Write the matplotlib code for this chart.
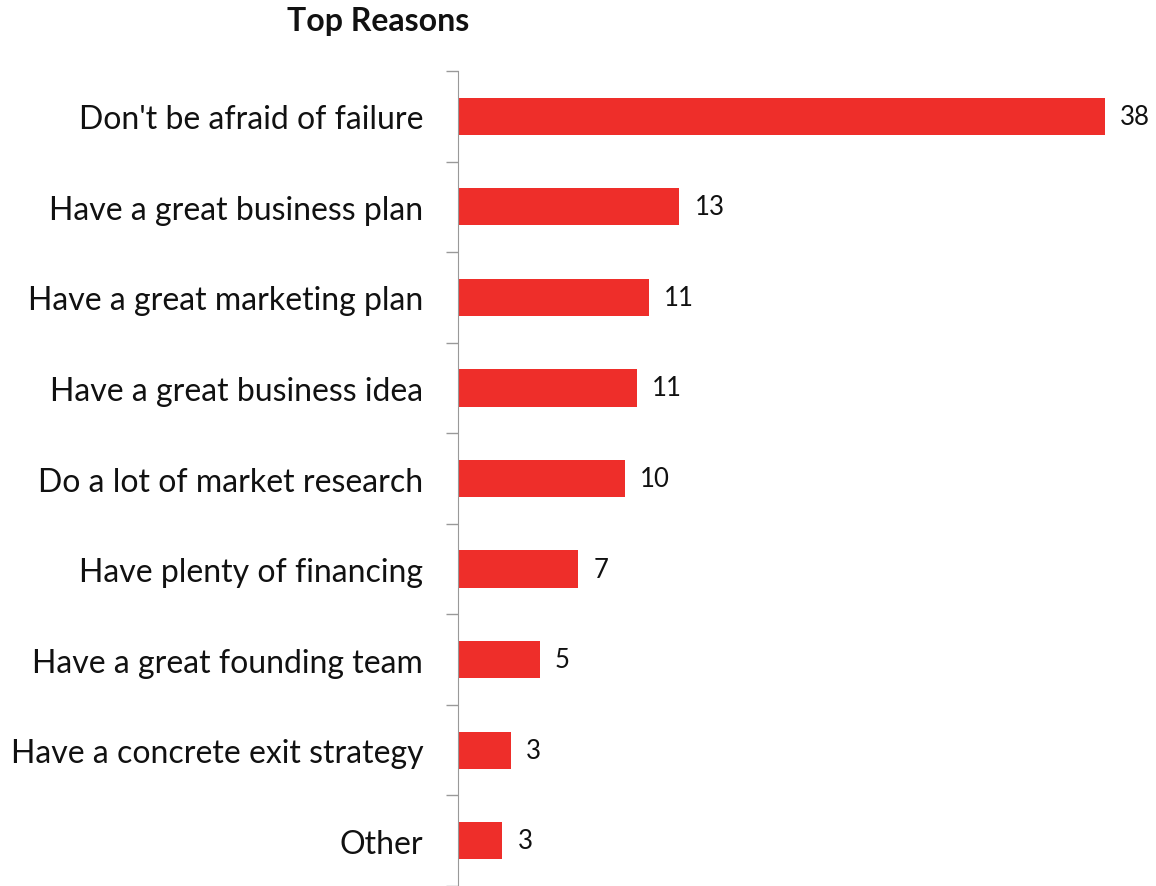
import matplotlib.pyplot as plt
import numpy as np

# Данные
reasons = ["Don't be afraid of failure", "Have a great business plan",
           "Have a great marketing plan", "Have a great business idea",
           "Do a lot of market research", "Have plenty of financing",
           "Have a great founding team", "Have a concrete exit strategy",
           "Other"]
values = [38, 13, 11.2, 10.5, 9.8, 7.05, 4.8, 3.1, 2.6]  # длины баров по картинке
labels = ["38", "13", "11", "11", "10", "7", "5", "3", "3"]

plt.rcParams['font.family'] = ['Lato', 'DejaVu Sans']

fig = plt.figure(figsize=(11.56, 8.87), dpi=100)
ax = fig.add_axes([458 / 1156, 0, 1 - 458 / 1156, 1 - 72 / 887])

y = np.arange(len(reasons))
bars = ax.barh(y, values, height=0.41, color='#EE2E2A')
ax.bar_label(bars, labels=labels, padding=11, fontsize=18.5, color='#111111')

ax.set_xlim(0, 41)
ax.set_ylim(len(reasons) - 0.5, -0.5)

# деления на границах категорий, подписи по центру
ax.set_yticks(np.arange(len(reasons) + 1) - 0.5)
ax.set_yticklabels([])
ax.set_yticks(y, minor=True)
ax.set_yticklabels(reasons, minor=True, fontsize=23, color='#111111')
ax.tick_params(axis='y', which='major', length=9, width=1, color='#999999', direction='out')
ax.tick_params(axis='y', which='minor', length=0, pad=25)
ax.set_xticks([])

for s in ['top', 'right', 'bottom']:
    ax.spines[s].set_visible(False)
ax.spines['left'].set_color('#999999')

fig.text(378 / 1156, 1 - 22 / 887, 'Top Reasons', ha='center', va='center',
         fontsize=23, fontweight='bold', color='#111111')

fig.savefig('out.png', dpi=100)
